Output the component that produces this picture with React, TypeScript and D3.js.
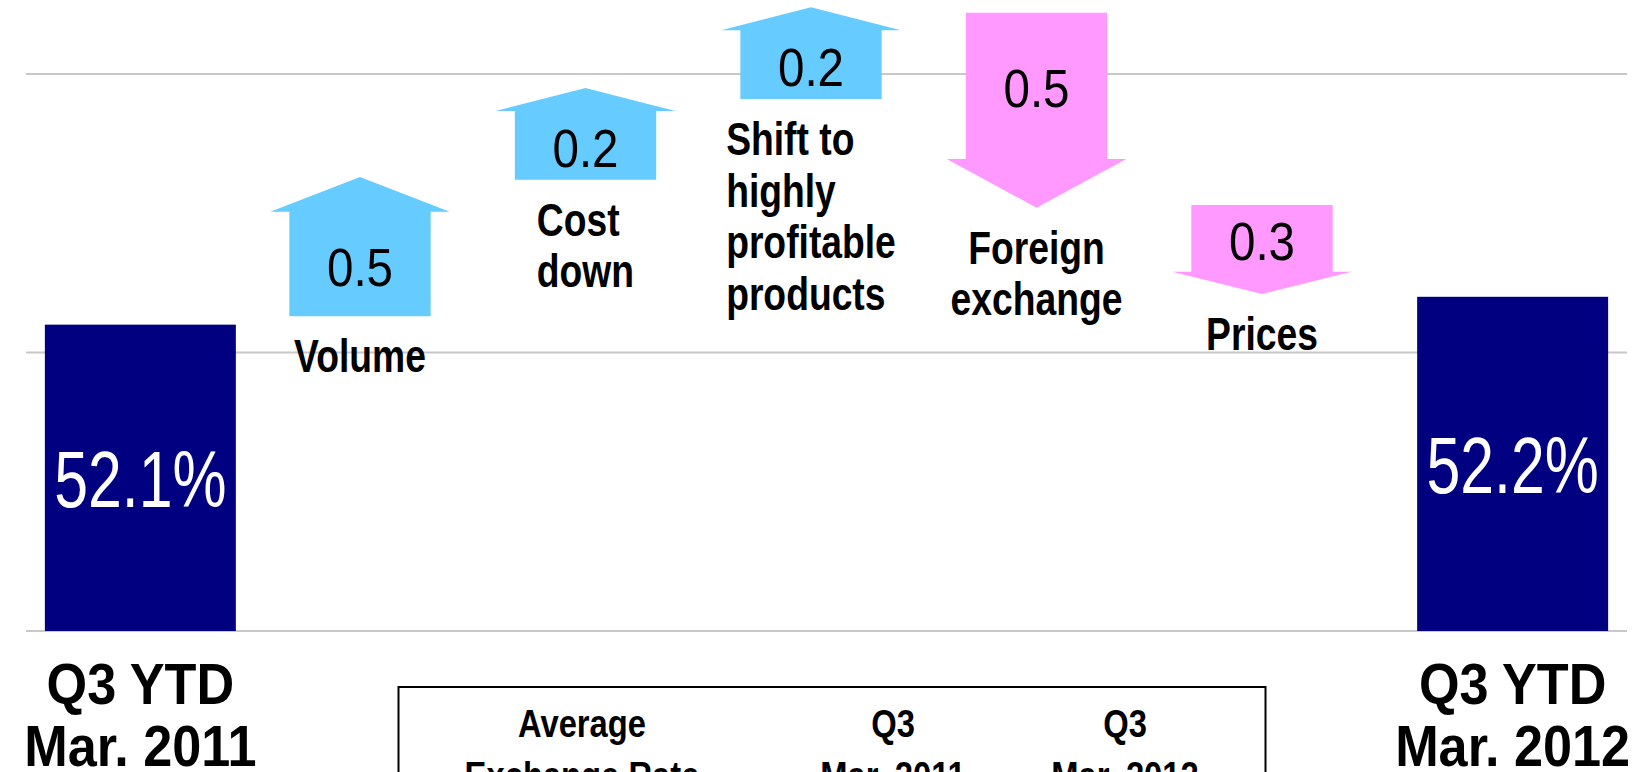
import React, { useRef, useEffect } from "react";
import * as d3 from "d3";

// chart values
const steps = ["Volume", "Cost down", "Shift to highly profitable products", "Foreign exchange", "Prices"];
const stepDeltas = [0.5, 0.2, 0.2, -0.5, -0.3];
const stepCaptions = [["Volume"], ["Cost", "down"], ["Shift to", "highly", "profitable", "products"], ["Foreign", "exchange"], ["Prices"]];
// where each arrow is drawn (in % points, as placed on the slide)
const arrowFrom = [52.13, 52.62, 52.91, 53.22, 52.53];
const arrowTo = [52.63, 52.95, 53.24, 52.52, 52.21];

const barKeys = ["Q3 YTD Mar. 2011", "Q3 YTD Mar. 2012"];
const barValues = [52.1, 52.2];
const barCaptions = [["Q3 YTD", "Mar. 2011"], ["Q3 YTD", "Mar. 2012"]];

const gridValues = [51, 52, 53];
const tableColumns = [["Average", "Exchange Rate"], ["Q3", "Mar. 2011"], ["Q3", "Mar. 2012"]];

const categories = [barKeys[0], ...steps, barKeys[1]];

const W = 1641;
const H = 772;
const FONT = '"Liberation Sans", Arial, sans-serif';

// the slide font is a narrow gothic, so squeeze the glyphs horizontally
const narrow = (sel, xFn, yFn, sx) =>
  sel.attr("transform", (d, i) => `translate(${xFn(d, i)},${yFn(d, i)}) scale(${sx},1)`);

const App = () => {
  const svgRef = useRef(null);

  useEffect(() => {
    document.body.style.margin = "0";

    const svg = d3.select(svgRef.current);
    svg.selectAll("*").remove();

    // Scales
    const x = d3
      .scaleBand()
      .domain(categories)
      .range([26, 1627])
      .paddingInner(0.165)
      .paddingOuter(0.0825);
    // the arrows sit a little tighter than the bar slots
    const xStep = d3.scalePoint().domain(steps).range([360, 1262]);
    const y = d3.scaleLinear().domain([51, 53]).range([631, 74]);
    const bw = x.bandwidth();

    // gridlines
    svg
      .append("g")
      .selectAll("line")
      .data(gridValues)
      .join("line")
      .attr("x1", x.range()[0])
      .attr("x2", x.range()[1])
      .attr("y1", (d) => y(d))
      .attr("y2", (d) => y(d))
      .attr("stroke", "#c8c8c8")
      .attr("stroke-width", 2);

    // start / end bars
    const bars = svg
      .append("g")
      .selectAll("g")
      .data(barKeys.map((k, i) => ({ k, v: barValues[i], cap: barCaptions[i] })))
      .join("g");

    bars
      .append("rect")
      .attr("x", (d) => x(d.k))
      .attr("y", (d) => y(d.v))
      .attr("width", bw)
      .attr("height", (d) => y(51) - y(d.v))
      .attr("fill", "#000080");

    narrow(
      bars
        .append("text")
        .attr("dy", "0.36em")
        .attr("text-anchor", "middle")
        .attr("fill", "white")
        .style("font-family", FONT)
        .style("font-size", "80px")
        .text((d) => `${d.v.toFixed(1)}%`),
      (d) => x(d.k) + bw / 2,
      (d) => (y(d.v) + y(51)) / 2,
      0.76
    );

    narrow(
      bars
        .selectAll("text.cap")
        .data((d) => d.cap.map((t, j) => ({ t, j, k: d.k })))
        .join("text")
        .classed("cap", true)
        .attr("text-anchor", "middle")
        .style("font-family", FONT)
        .style("font-weight", "bold")
        .style("font-size", "58px")
        .text((d) => d.t),
      (d) => x(d.k) + bw / 2,
      (d) => y(51) + 73 + d.j * 62,
      0.9
    );

    // arrows
    const headW = bw * 0.94;
    const shaftW = bw * 0.74;
    const arrowData = steps.map((s, i) => ({
      s,
      i,
      delta: stepDeltas[i],
      y0: y(arrowFrom[i]),
      y1: y(arrowTo[i]),
      cx: xStep(s),
    }));

    const arrows = svg.append("g").selectAll("g").data(arrowData).join("g");

    arrows
      .append("path")
      .attr("fill", (d) => (d.delta > 0 ? "#66ccff" : "#ff99ff"))
      .attr("d", (d) => {
        const len = d.y1 - d.y0; // negative for up arrows
        const hb = d.y1 - len * 0.25; // head base
        const p = d3.path();
        p.moveTo(d.cx - shaftW / 2, d.y0);
        p.lineTo(d.cx - shaftW / 2, hb);
        p.lineTo(d.cx - headW / 2, hb);
        p.lineTo(d.cx, d.y1);
        p.lineTo(d.cx + headW / 2, hb);
        p.lineTo(d.cx + shaftW / 2, hb);
        p.lineTo(d.cx + shaftW / 2, d.y0);
        p.closePath();
        return p.toString();
      });

    narrow(
      arrows
        .append("text")
        .attr("dy", "0.36em")
        .attr("text-anchor", "middle")
        .style("font-family", FONT)
        .style("font-size", "54px")
        .text((d) => d3.format(".1f")(Math.abs(d.delta))),
      (d) => d.cx,
      (d) => (d.y0 + d.y1 - (d.y1 - d.y0) * 0.25) / 2 + 2,
      0.88
    );

    // captions under each arrow (block left aligned for the stacked ones)
    const blockAligned = [false, true, true, false, false];
    const capSx = 0.81;
    arrows.each(function (d) {
      const g = d3.select(this);
      const lower = Math.max(d.y0, d.y1);
      const lines = g
        .selectAll("text.cap")
        .data(stepCaptions[d.i])
        .join("text")
        .classed("cap", true)
        .style("font-family", FONT)
        .style("font-weight", "bold")
        .style("font-size", "46px")
        .text((t) => t);
      const yFn = (t, j) => lower + 56 + j * 51.5;
      if (blockAligned[d.i]) {
        let maxW = 0;
        lines.each(function () {
          maxW = Math.max(maxW, this.getComputedTextLength() * capSx);
        });
        lines.attr("text-anchor", "start");
        narrow(lines, () => d.cx - maxW / 2, yFn, capSx);
      } else {
        lines.attr("text-anchor", "middle");
        narrow(lines, () => d.cx, yFn, capSx);
      }
    });

    // exchange rate table (cut by the bottom edge)
    const table = svg.append("g");
    table
      .append("rect")
      .attr("x", 398.5)
      .attr("y", 687)
      .attr("width", 867)
      .attr("height", 200)
      .attr("fill", "none")
      .attr("stroke", "black")
      .attr("stroke-width", 2);
    const colX = [582, 893, 1125];
    tableColumns.forEach((col, c) => {
      narrow(
        table
          .selectAll(`text.c${c}`)
          .data(col)
          .join("text")
          .classed(`c${c}`, true)
          .attr("text-anchor", "middle")
          .style("font-family", FONT)
          .style("font-weight", "bold")
          .style("font-size", "39px")
          .text((t) => t),
        () => colX[c],
        (t, j) => 737 + j * 52,
        0.84
      );
    });
  }, []);

  return (
    <svg
      ref={svgRef}
      width={W}
      height={H}
      style={{ position: "absolute", left: 0, top: 0, display: "block", background: "white" }}
    />
  );
};

export default App;
